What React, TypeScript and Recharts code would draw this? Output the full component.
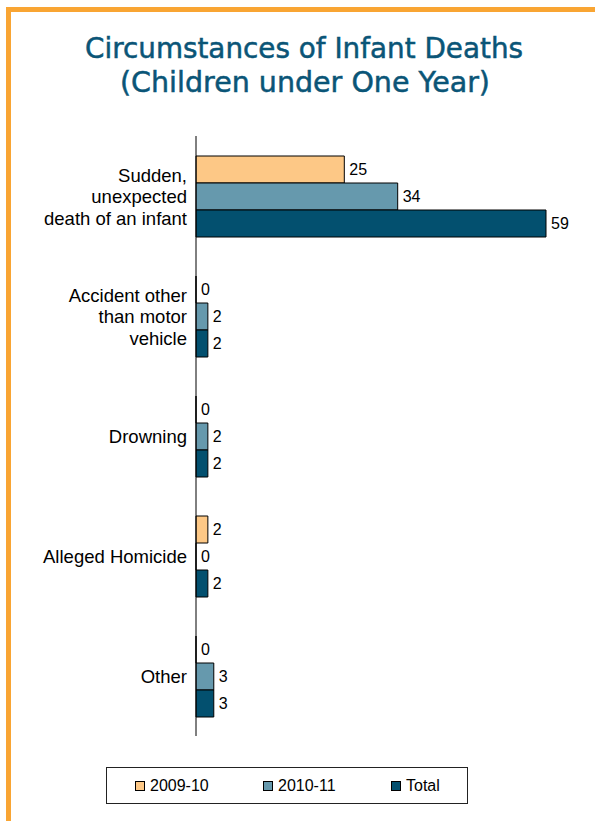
import React from 'react';
import { BarChart, Bar, XAxis, YAxis, LabelList, Legend } from 'recharts';

// Categories of circumstance (line breaks mark the wrapped axis labels)
const categories = [
  'Sudden,\nunexpected\ndeath of an infant',
  'Accident other\nthan motor\nvehicle',
  'Drowning',
  'Alleged Homicide',
  'Other',
];

// Infant death counts per category
const deaths2009_10 = [25, 0, 0, 2, 0];
const deaths2010_11 = [34, 2, 2, 0, 3];
const deathsTotal = [59, 2, 2, 2, 3];

const seriesNames = ['2009-10', '2010-11', 'Total'];
const titleLines = ['Circumstances of Infant Deaths', '(Children under One Year)'];

// Band boundaries used for the tick marks along the category axis
const bandEdges = [0, 1, 2, 3, 4, 5];
const valueMax = 59;

const COLORS = ['#FDC886', '#6699AD', '#03506F'];
const ACCENT = '#F9A533';
const TITLE_COLOR = '#0A5577';
const FONT = '"Liberation Sans", Arial, sans-serif';

const data = categories.map((category, i) => ({
  category,
  y2009: deaths2009_10[i],
  y2010: deaths2010_11[i],
  total: deathsTotal[i],
}));

// zero-valued bars keep a hairline so their "0" label still gets a position
const zeroHairline = (value: any) => (Number(value) === 0 ? 0.01 : 0);

const CategoryTick = (props: any) => {
  const { x, y, payload } = props;
  const lines = String(payload.value).split('\n');
  const lineHeight = 21.5;
  const start = -((lines.length - 1) * lineHeight) / 2;
  return (
    <text x={x} y={y} textAnchor="end" fontSize={18.5} fontFamily={FONT} fill="#000">
      {lines.map((line, i) => (
        <tspan key={i} x={x} y={y + start + i * lineHeight} dy="0.38em">
          {line}
        </tspan>
      ))}
    </text>
  );
};

const LegendBox = (props: any) => {
  const payload = props.payload || [];
  return (
    <div
      style={{
        width: 362,
        height: 37,
        border: '1px solid #222',
        background: '#fff',
        display: 'flex',
        alignItems: 'center',
        paddingLeft: 28,
        boxSizing: 'border-box',
        fontFamily: FONT,
        fontSize: 16,
        color: '#000',
      }}
    >
      {payload.map((item: any) => (
        <div key={item.value} style={{ width: 128, flex: '0 0 128px', display: 'flex', alignItems: 'center' }}>
          <span
            style={{
              display: 'inline-block',
              width: 8,
              height: 8,
              border: '1px solid #000',
              background: item.color,
            }}
          />
          <span style={{ marginLeft: 5, lineHeight: '16px' }}>{item.value}</span>
        </div>
      ))}
    </div>
  );
};

const labelStyle = { fontSize: 16, fontFamily: FONT, fill: '#000' };

export default function App() {
  return (
    <div
      style={{
        position: 'absolute',
        left: 0,
        top: 0,
        width: 595,
        height: 821,
        background: '#fff',
        overflow: 'hidden',
      }}
    >
      {/* page frame: orange rule along the top and left */}
      <div
        style={{
          position: 'absolute',
          left: 6,
          top: 7,
          right: 0,
          bottom: 0,
          borderTop: `5px solid ${ACCENT}`,
          borderLeft: `5px solid ${ACCENT}`,
        }}
      />
      <svg width={595} height={120} style={{ position: 'absolute', left: 0, top: 0 }}>
        {titleLines.map((line, i) => (
          <text
            key={i}
            x={i === 0 ? 304 : 305}
            y={i === 0 ? 57.5 : 92}
            textAnchor="middle"
            fontSize={27.5}
            fontFamily='"DejaVu Sans", Verdana, sans-serif'
            fill={TITLE_COLOR}
            stroke={TITLE_COLOR}
            strokeWidth={0.5}
            textLength={i === 0 ? 438 : 370}
            lengthAdjust="spacingAndGlyphs"
          >
            {line}
          </text>
        ))}
      </svg>
      <div style={{ position: 'absolute', left: 0, top: 0 }}>
        <BarChart
          width={595}
          height={821}
          data={data}
          layout="vertical"
          margin={{ top: 136, right: 49, bottom: 85, left: 10 }}
          barCategoryGap="16.67%"
          barGap={0}
        >
          <XAxis type="number" domain={[0, valueMax]} hide />
          <YAxis
            yAxisId="a-edges"
            type="number"
            domain={[0, bandEdges[bandEdges.length - 1]]}
            ticks={bandEdges}
            allowDataOverflow
            width={6}
            tick={false}
            tickSize={5}
            axisLine={{ stroke: '#000' }}
            tickLine={{ stroke: '#000' }}
          />
          <YAxis
            yAxisId="z-cat"
            type="category"
            dataKey="category"
            width={180}
            axisLine={false}
            tickLine={false}
            tickSize={0}
            tickMargin={3}
            interval={0}
            tick={<CategoryTick />}
          />
          <Legend
            layout="horizontal"
            verticalAlign="middle"
            align="center"
            content={<LegendBox />}
            wrapperStyle={{ left: 106, top: 767, width: 362, height: 37 }}
          />
          <Bar
            yAxisId="z-cat"
            dataKey="y2009"
            name={seriesNames[0]}
            fill={COLORS[0]}
            stroke="#000"
            strokeWidth={1}
            minPointSize={zeroHairline}
            isAnimationActive={false}
          >
            <LabelList dataKey="y2009" position="right" offset={5} style={labelStyle} />
          </Bar>
          <Bar
            yAxisId="z-cat"
            dataKey="y2010"
            name={seriesNames[1]}
            fill={COLORS[1]}
            stroke="#000"
            strokeWidth={1}
            minPointSize={zeroHairline}
            isAnimationActive={false}
          >
            <LabelList dataKey="y2010" position="right" offset={5} style={labelStyle} />
          </Bar>
          <Bar
            yAxisId="z-cat"
            dataKey="total"
            name={seriesNames[2]}
            fill={COLORS[2]}
            stroke="#000"
            strokeWidth={1}
            minPointSize={zeroHairline}
            isAnimationActive={false}
          >
            <LabelList dataKey="total" position="right" offset={5} style={labelStyle} />
          </Bar>
        </BarChart>
      </div>
    </div>
  );
}
